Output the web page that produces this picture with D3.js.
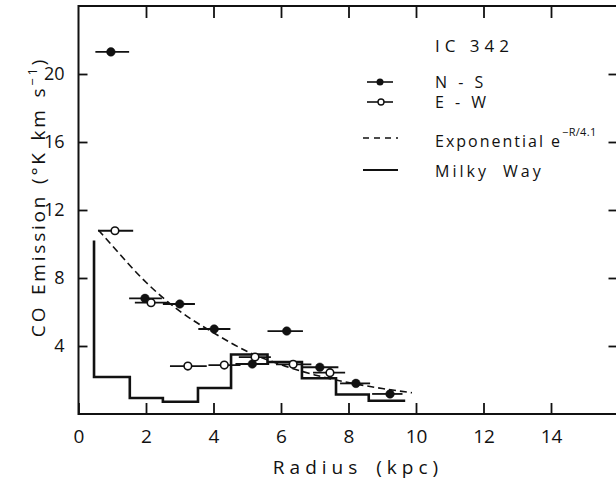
<!DOCTYPE html>
<html>
<head>
<meta charset="utf-8">
<script src="https://cdn.jsdelivr.net/npm/d3@7/dist/d3.min.js"></script>
<style>
  html, body { margin: 0; padding: 0; background: #fff; }
  svg { display: block; }
  text { font-family: "Open Sans", "DejaVu Sans", sans-serif; fill: #111; }
</style>
</head>
<body>
<svg id="chart" width="616" height="490"></svg>
<script>
// IC 342 CO emission profile: N-S and E-W cuts, exponential fit and Milky Way comparison

// N-S cut (filled symbols): radius, CO emission, radial bin extent
const nsRadius = [0.96, 1.97, 3.0, 4.02, 5.15, 6.17, 7.15, 8.22, 9.23];
const nsCO     = [21.3, 6.8, 6.47, 5.0, 2.94, 4.88, 2.75, 1.8, 1.18];
const nsLo     = [0.5, 1.5, 2.5, 3.55, 4.65, 5.6, 6.62, 7.75, 8.7];
const nsHi     = [1.5, 2.47, 3.45, 4.5, 5.65, 6.65, 7.7, 8.64, 9.6];

// E-W cut (open symbols)
const ewRadius = [1.08, 2.15, 3.24, 4.32, 5.23, 6.36, 7.45];
const ewCO     = [10.78, 6.55, 2.82, 2.88, 3.35, 2.92, 2.43];
const ewLo     = [0.58, 1.67, 2.71, 3.85, 4.75, 5.85, 6.95];
const ewHi     = [1.62, 2.65, 3.8, 4.8, 5.7, 6.9, 7.9];

// Exponential e^(-R/4.1) curve
const expRadius = [0.59, 1.0, 2.0, 3.0, 4.0, 5.0, 6.0, 7.0, 8.0, 9.0, 9.88];
const expCO     = [10.82, 9.9, 7.75, 6.05, 4.78, 3.68, 2.9, 2.3, 1.85, 1.5, 1.25];

// Milky Way histogram: bin edges and levels, plus the central peak
const mwEdges = [0.46, 1.52, 2.5, 3.54, 4.52, 5.6, 6.62, 7.63, 8.6, 9.68];
const mwCO    = [2.18, 0.94, 0.72, 1.53, 3.5, 3.06, 2.1, 1.15, 0.78];
const mwPeak  = 10.2;

const xTicks = [0, 2, 4, 6, 8, 10, 12, 14];
const yTicks = [4, 8, 12, 16, 20];

const svg = d3.select("#chart");
const x = d3.scaleLinear().domain([0, 16]).range([78.5, 618.5]);
const y = d3.scaleLinear().domain([0, 24]).range([414, 6]);

// frame
svg.append("rect")
  .attr("x", x(0)).attr("y", y(24))
  .attr("width", x(16) - x(0)).attr("height", y(0) - y(24))
  .attr("fill", "none").attr("stroke", "#111").attr("stroke-width", 2);

function styleAxis(g) {
  g.select(".domain").remove();
  g.selectAll(".tick line").attr("stroke", "#111").attr("stroke-width", 1.8);
  g.selectAll(".tick text")
    .style("font-size", "18px").style("font-weight", 400).attr("fill", "#111");
}

svg.append("g").attr("transform", `translate(0,${y(0)})`)
  .call(d3.axisBottom(x).tickValues(xTicks).tickFormat(d3.format("d"))
    .tickSizeInner(-11).tickSizeOuter(0).tickPadding(16))
  .call(styleAxis)
  .call(g => g.selectAll(".tick text").style("font-size", "19px"));

svg.append("g").attr("transform", `translate(${x(0)},0)`)
  .call(d3.axisLeft(y).tickValues(yTicks).tickFormat(d3.format("d"))
    .tickSizeInner(-9).tickSizeOuter(0).tickPadding(14))
  .call(styleAxis);

svg.append("g").attr("transform", `translate(0,${y(24)})`)
  .call(d3.axisTop(x).tickValues(xTicks.slice(1)).tickFormat("")
    .tickSizeInner(-12).tickSizeOuter(0))
  .call(styleAxis);

svg.append("g").attr("transform", `translate(${x(16)},0)`)
  .call(d3.axisRight(y).tickValues(yTicks).tickFormat("")
    .tickSizeInner(-10).tickSizeOuter(0))
  .call(styleAxis);

// axis titles
svg.append("text")
  .attr("x", 358).attr("y", 474)
  .attr("text-anchor", "middle")
  .style("font-size", "19px").style("font-weight", 400)
  .style("letter-spacing", "5px").style("word-spacing", "4px")
  .text("Radius (kpc)");

const yTitle = svg.append("text")
  .attr("transform", "translate(45,197) rotate(-90)")
  .attr("text-anchor", "middle")
  .style("font-size", "19px").style("font-weight", 400)
  .style("letter-spacing", "2.8px").style("word-spacing", "2px");
yTitle.append("tspan").text("CO Emission (°K km s");
yTitle.append("tspan").attr("dy", -8).style("font-size", "13px").text("−1");
yTitle.append("tspan").attr("dy", 8).text(")");

// Milky Way step histogram
const mwPts = [[mwEdges[0], mwPeak]]
  .concat(mwCO.map((v, i) => [mwEdges[i], v]))
  .concat([[mwEdges[mwEdges.length - 1], mwCO[mwCO.length - 1]]]);
svg.append("path")
  .datum(mwPts)
  .attr("d", d3.line().x(d => x(d[0])).y(d => y(d[1])).curve(d3.curveStepAfter))
  .attr("fill", "none").attr("stroke", "#111").attr("stroke-width", 2.6);

// exponential curve
svg.append("path")
  .datum(expRadius.map((r, i) => [r, expCO[i]]))
  .attr("d", d3.line().x(d => x(d[0])).y(d => y(d[1])).curve(d3.curveMonotoneX))
  .attr("fill", "none").attr("stroke", "#111").attr("stroke-width", 1.6)
  .attr("stroke-dasharray", "7,4");

// error bars and symbols
function series(rs, vs, lo, hi, filled) {
  const g = svg.append("g");
  g.selectAll("line").data(rs).join("line")
    .attr("x1", (d, i) => x(lo[i])).attr("x2", (d, i) => x(hi[i]))
    .attr("y1", (d, i) => y(vs[i])).attr("y2", (d, i) => y(vs[i]))
    .attr("stroke", "#111").attr("stroke-width", 1.8);
  g.selectAll("circle").data(rs).join("circle")
    .attr("cx", d => x(d)).attr("cy", (d, i) => y(vs[i]))
    .attr("r", filled ? 4.3 : 3.8)
    .attr("fill", filled ? "#111" : "#fff")
    .attr("stroke", "#111").attr("stroke-width", filled ? 0.5 : 1.6);
}
series(nsRadius, nsCO, nsLo, nsHi, true);
series(ewRadius, ewCO, ewLo, ewHi, false);

// legend
const lg = svg.append("g");
function ltext(xp, yp, s, spacing, words) {
  return lg.append("text").attr("x", xp).attr("y", yp).text(s)
    .style("font-size", "16px").style("font-weight", 400)
    .style("letter-spacing", spacing + "px").style("word-spacing", words + "px");
}
ltext(435, 52, "IC 342", 5, 0).style("font-size", "17px");

lg.append("line").attr("x1", 367).attr("x2", 393).attr("y1", 82).attr("y2", 82)
  .attr("stroke", "#111").attr("stroke-width", 1.6);
lg.append("circle").attr("cx", 380).attr("cy", 82).attr("r", 3.5).attr("fill", "#111");
ltext(435, 88, "N - S", 3.5, 0);

lg.append("line").attr("x1", 367).attr("x2", 393).attr("y1", 102).attr("y2", 102)
  .attr("stroke", "#111").attr("stroke-width", 1.6);
lg.append("circle").attr("cx", 381).attr("cy", 102).attr("r", 3)
  .attr("fill", "#fff").attr("stroke", "#111").attr("stroke-width", 1.4);
ltext(435, 108, "E - W", 3.5, 0);

lg.append("line").attr("x1", 363).attr("x2", 398).attr("y1", 138).attr("y2", 138)
  .attr("stroke", "#111").attr("stroke-width", 1.6).attr("stroke-dasharray", "6,5");
const et = ltext(435, 147, "Exponential e", 2, 0);
et.append("tspan").attr("dy", -11).style("font-size", "11px").style("letter-spacing", "0.3px").text("−R/4.1");

lg.append("line").attr("x1", 363).attr("x2", 398).attr("y1", 170).attr("y2", 170)
  .attr("stroke", "#111").attr("stroke-width", 2.2);
ltext(435, 177, "Milky Way", 3, 7);
</script>
</body>
</html>
